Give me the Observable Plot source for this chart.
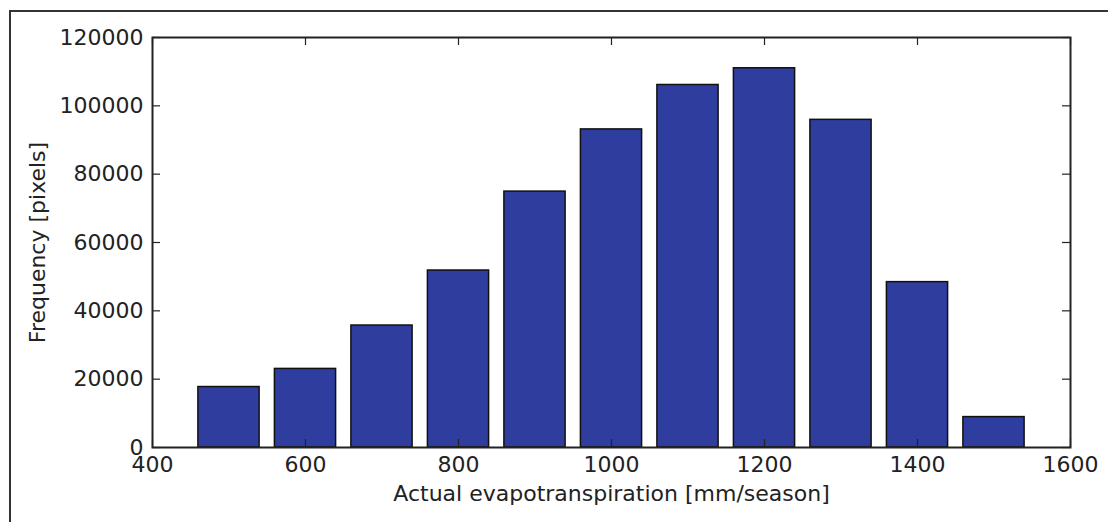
<!DOCTYPE html>
<html>
<head>
<meta charset="utf-8">
<script src="https://cdn.jsdelivr.net/npm/d3@7"></script>
<script src="https://cdn.jsdelivr.net/npm/@observablehq/plot@0.6"></script>
<style>
  html, body { margin: 0; padding: 0; background: #fff; }
  #wrap { position: relative; width: 1108px; height: 522px; overflow: hidden; }
  #border { position: absolute; left: 9px; top: 10px; width: 1200px; height: 600px;
            border-top: 2px solid #333; border-left: 2px solid #333; box-sizing: border-box; pointer-events: none; }
  #chart { position: absolute; left: 0; top: 0; }
</style>
</head>
<body>
<div id="wrap"><div id="chart"></div><div id="border"></div></div>
<script>
// Bin centres (mm/season) and pixel counts per bin
const binCenters = [500, 600, 700, 800, 900, 1000, 1100, 1200, 1300, 1400, 1500];
const frequencies = [17700, 23000, 35700, 51800, 74900, 93100, 106100, 111000, 95900, 48400, 8900];
const binHalfWidth = 40;
const xTicks = [400, 600, 800, 1000, 1200, 1400, 1600];
const yTicks = [0, 20000, 40000, 60000, 80000, 100000, 120000];

const data = binCenters.map((c, i) => ({center: c, count: frequencies[i]}));

const W = 1108, H = 522;
const mL = 152, mR = 38, mT = 37, mB = 75;
const innerW = W - mL - mR, innerH = H - mT - mB;
const tick = 8;

const chart = Plot.plot({
  width: W, height: H,
  marginLeft: mL, marginRight: mR, marginTop: mT, marginBottom: mB,
  style: {fontFamily: "DejaVu Sans", fontSize: "22px", background: "transparent", color: "#222"},
  x: {domain: [400, 1600]},
  y: {domain: [0, 120000]},
  marks: [
    Plot.rectY(data, {
      x1: d => d.center - binHalfWidth, x2: d => d.center + binHalfWidth, y: "count",
      fill: "#2e3d9e", stroke: "#111", strokeWidth: 1.5
    }),
    // inward ticks on all four sides
    Plot.ruleX(xTicks, {insetTop: innerH - tick, stroke: "#222", strokeWidth: 1.2}),
    Plot.ruleX(xTicks, {insetBottom: innerH - tick, stroke: "#222", strokeWidth: 1.2}),
    Plot.ruleY(yTicks, {insetRight: innerW - tick, stroke: "#222", strokeWidth: 1.2}),
    Plot.ruleY(yTicks, {insetLeft: innerW - tick, stroke: "#222", strokeWidth: 1.2}),
    Plot.frame({stroke: "#222", strokeWidth: 2}),
    Plot.axisX({ticks: xTicks, tickSize: 0, tickPadding: 9, tickFormat: d => String(d),
      label: "Actual evapotranspiration [mm/season]", labelAnchor: "center", labelArrow: "none", labelOffset: 53}),
    Plot.axisY({ticks: yTicks, tickSize: 0, tickPadding: 9, tickFormat: d => String(d),
      label: "Frequency [pixels]", labelAnchor: "center", labelArrow: "none", labelOffset: 123})
  ]
});
document.getElementById("chart").appendChild(chart);
</script>
</body>
</html>
